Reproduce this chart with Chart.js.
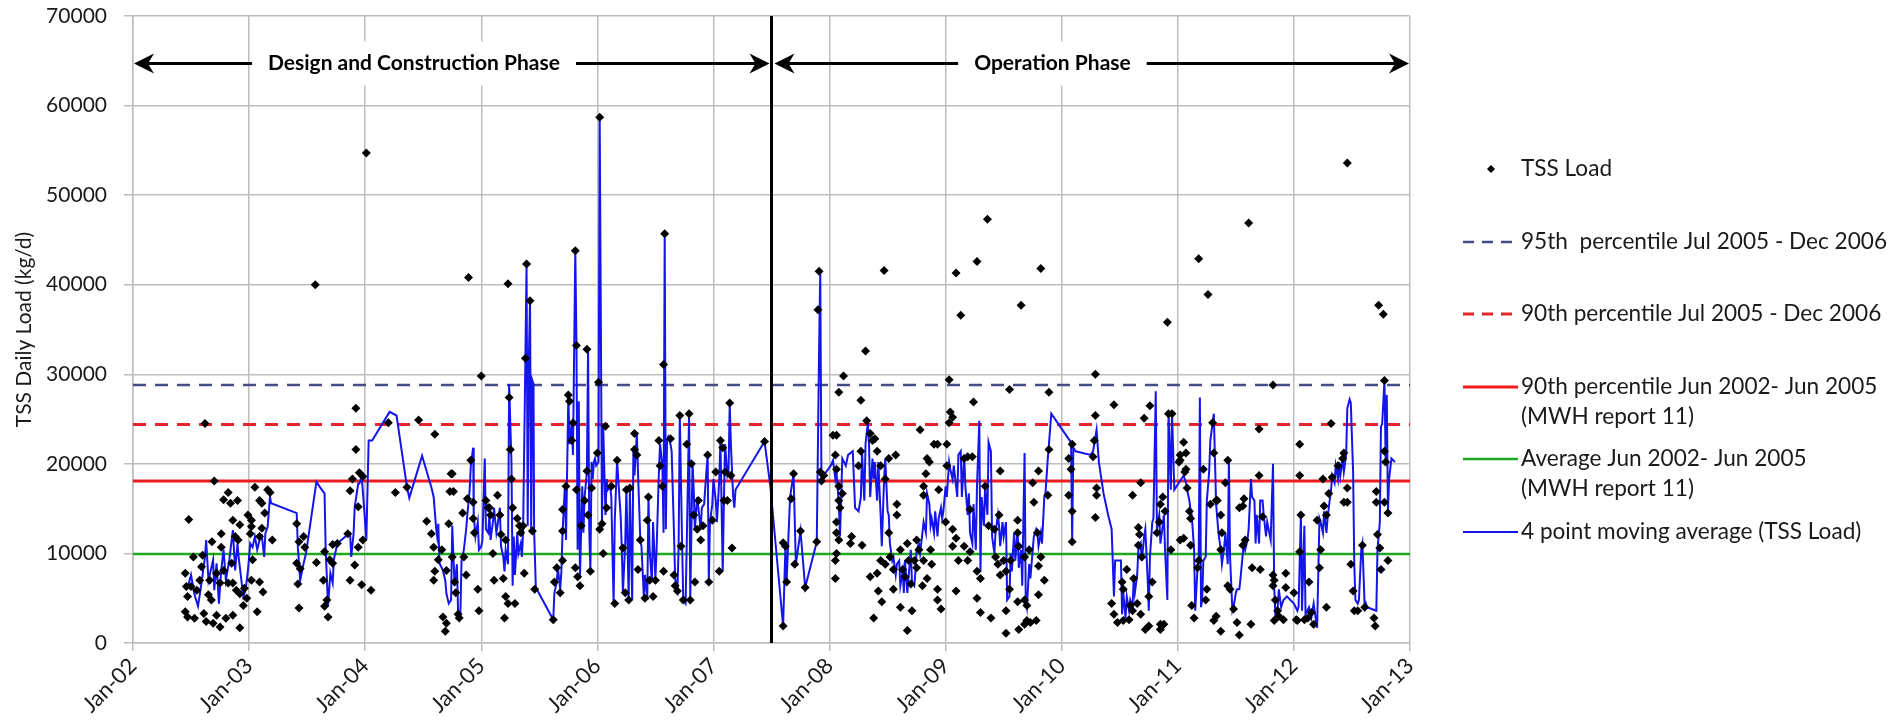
<!DOCTYPE html>
<html lang="en">
<head>
<meta charset="UTF-8">
<title>TSS Daily Load</title>
<script src="https://cdn.jsdelivr.net/npm/chart.js@4.4.0/dist/chart.umd.min.js"></script>
<style>
  html, body { margin: 0; padding: 0; background: #fff; }
  #wrap { width: 1902px; height: 725px; position: relative; }
</style>
</head>
<body>
<div id="wrap"><canvas id="tssChart"></canvas></div>

<script>
// ---- data (decimal year, kg/d) ----
const xTickLabels = ['Jan-02', 'Jan-03', 'Jan-04', 'Jan-05', 'Jan-06', 'Jan-07',
                     'Jan-08', 'Jan-09', 'Jan-10', 'Jan-11', 'Jan-12', 'Jan-13'];

const seriesLabels = [
  'TSS Load',
  '95th  percentile Jul 2005 - Dec 2006',
  '90th percentile Jul 2005 - Dec 2006',
  ['90th percentile Jun 2002- Jun 2005', '(MWH report 11)'],
  ['Average Jun 2002- Jun 2005', '(MWH report 11)'],
  '4 point moving average (TSS Load)'
];

const p95JulDec = 28800;
const p90JulDec = 24400;
const p90Mwh = 18100;
const averageMwh = 9950;

const phaseNames = ['Design and Construction Phase', 'Operation Phase'];
const phaseBoundary = 2007.5;

const tssLoad = [
  // 2002 - 2004
  [2002.45,7800],[2002.46,6300],[2002.47,5200],[2002.45,3500],[2002.47,2900],[2002.53,2750],[2002.61,3300],
  [2002.63,2400],[2002.69,2200],[2002.75,1800],[2002.72,3100],[2002.80,2750],[2002.86,3100],[2002.92,1700],
  [2002.52,9600],[2002.60,9800],[2002.59,8500],[2002.66,7000],[2002.72,7800],[2002.76,12200],[2002.76,10700],
  [2002.68,11300],[2002.78,16000],[2002.82,16800],[2002.84,15600],[2002.90,15900],[2002.86,13700],[2002.92,13200],
  [2002.88,11900],[2002.905,11500],[2002.85,8900],[2002.86,6700],[2002.92,5500],[2002.95,4200],[2002.99,14300],
  [2003.02,13700],[2003.02,13000],[2003.01,12200],[2003.03,9300],[2003.02,7000],[2003.09,6800],[2003.07,3500],
  [2003.12,5700],[2003.05,17400],[2003.09,15900],[2003.11,15600],[2003.135,14500],[2003.11,12800],[2003.16,17100],
  [2003.18,16800],[2003.20,11500],[2003.09,11900],[2002.48,13800],[2002.62,24500],[2002.70,18100],
  [2002.50,6300],[2002.55,5900],[2002.575,7000],[2002.65,5400],[2002.675,4800],[2002.75,6700],[2002.78,8100],
  [2002.82,6700],[2002.89,5900],[2002.96,6100],[2002.98,5000],
  [2003.41,13300],[2003.43,11300],[2003.47,11900],[2003.48,10700],[2003.41,8900],[2003.44,8300],[2003.42,6600],
  [2003.43,3900],[2003.57,40000],[2003.58,9000],[2003.65,10200],[2003.695,9300],[2003.72,11000],[2003.72,8900],
  [2003.64,7000],[2003.65,4100],[2003.68,2900],[2003.67,4800],[2003.76,11100],
  [2003.85,12200],[2003.87,7000],[2003.91,8700],[2003.94,10700],[2003.97,6500],[2003.98,11500],[2004.05,5900],
  [2003.87,17000],[2003.89,18300],[2003.92,21600],[2003.92,26200],[2003.95,19000],[2003.94,15200],[2003.98,18600],
  [2004.01,54700],[2004.20,24600],[2004.26,16800],[2004.46,24900],[2004.60,23300],[2004.36,17400],
  [2004.53,13600],[2004.57,12200],[2004.59,10700],[2004.60,8000],[2004.59,7000],[2004.63,9300],[2004.66,10400],
  [2004.67,2900],[2004.70,2200],[2004.69,1300],[2004.73,16900],[2004.74,18900],[2004.72,13300],[2004.70,8100],
  // 2004.75 - 2007.5
  [2004.75,18900],[2004.76,16900],[2004.75,9600],[2004.77,6800],[2004.78,5600],[2004.80,3200],[2004.81,2800],
  [2004.84,14500],[2004.85,9600],[2004.87,7600],[2004.88,16100],[2004.91,20400],[2004.93,15700],[2004.93,13900],
  [2004.94,12300],[2004.97,6000],[2004.98,3600],[2005.04,15900],[2005.06,15100],[2005.07,15100],[2005.08,14300],
  [2005.10,10000],[2005.11,7000],[2005.14,16500],[2005.16,14300],[2005.17,12100],[2005.19,7200],[2005.20,2800],
  [2005.21,11500],[2005.21,5200],[2005.23,4400],[2005.25,21600],[2005.24,27400],[2005.26,18300],[2005.27,15100],
  [2005.29,4400],[2005.31,13900],[2005.33,13100],[2005.34,12300],[2005.37,7800],[2005.36,13100],[2005.44,12500],
  [2005.46,6000],[2005.62,2600],[2005.63,6800],[2005.65,8400],[2005.68,5600],[2005.70,9200],[2005.70,12500],
  [2005.70,14900],[2005.73,17500],[2005.75,27700],[2005.76,27000],[2005.78,22600],[2005.79,24600],[2005.81,8400],
  [2005.82,17100],[2005.83,7400],[2005.85,6400],[2005.86,13100],[2005.89,15900],[2005.91,19200],[2005.92,14300],
  [2005.94,8000],[2005.95,17300],[2006.00,21200],[2006.02,12700],[2006.04,13300],[2006.05,10000],[2006.07,24200],
  [2006.08,15100],[2006.12,17500],[2006.15,4400],[2006.17,20400],[2006.22,10600],[2006.24,5600],[2006.27,4800],
  [2006.25,17100],[2006.28,17300],[2006.32,23400],[2006.32,21600],[2006.34,21000],[2006.35,8200],[2006.37,11500],
  [2006.41,5000],[2006.43,13700],[2006.44,16300],[2006.45,7000],[2006.48,5200],[2006.50,7000],[2006.53,22600],
  [2006.54,19800],[2006.56,17500],[2006.57,8000],[2006.63,22800],[2006.66,7600],[2006.67,6400],[2006.69,5800],
  [2006.71,25400],[2006.72,10800],[2006.74,4800],[2006.77,22200],[2006.79,25600],[2006.80,4800],[2006.81,20000],
  [2006.83,14300],[2006.84,6800],[2006.86,12700],[2006.87,15900],[2006.89,11500],[2006.91,13100],[2006.95,21000],
  [2006.96,6800],[2006.99,13700],[2007.02,19100],[2007.05,8000],[2007.06,22600],[2007.08,21800],[2007.09,15900],
  [2007.10,19100],[2007.12,15900],[2007.15,18700],
  [2004.89,40800],[2005.23,40100],[2005.00,29800],[2005.39,42300],[2005.42,38200],[2005.38,31800],[2005.81,43800],
  [2005.82,33200],[2005.91,32800],[2006.02,58700],[2006.58,45700],[2006.57,31100],[2006.01,29100],[2007.14,26800],
  [2007.44,22500],[2007.16,10600],
  // 2007.5 - 2010.25
  [2007.91,41500],[2007.90,37200],[2008.47,41600],[2008.31,32600],[2008.12,29800],[2008.08,28000],[2009.09,41300],
  [2009.13,36600],[2009.27,42600],[2009.36,47300],[2009.65,37700],[2009.82,41800],[2009.03,29400],[2009.55,28300],
  [2009.24,26900],[2009.89,28000],[2008.27,27100],
  [2007.60,11200],[2007.60,1900],[2007.62,10800],[2007.63,6800],[2007.67,16100],[2007.69,18900],[2007.70,8800],
  [2007.75,12500],[2007.79,6200],[2007.89,11300],[2007.92,19100],[2007.93,18100],[2007.95,18700],[2008.03,23200],
  [2008.06,23200],[2008.05,21000],[2008.06,19400],[2008.08,17500],[2008.08,15900],[2008.09,15100],[2008.11,16700],
  [2008.06,13500],[2008.06,12300],[2008.08,11500],[2008.06,10000],[2008.05,9200],[2008.05,7200],[2008.19,11900],
  [2008.18,11100],[2008.28,10900],[2008.25,19800],[2008.27,21400],[2008.32,24800],[2008.35,23400],[2008.37,22600],
  [2008.39,22800],[2008.41,21400],[2008.44,19800],[2008.48,18300],[2008.51,20600],[2008.57,21000],[2008.58,15500],
  [2008.58,14300],[2008.51,12300],[2008.44,9200],[2008.48,8800],[2008.52,9600],[2008.35,7400],[2008.41,7800],
  [2008.42,5800],[2008.45,4600],[2008.38,2800],[2008.55,6000],[2008.61,4000],[2008.67,1400],[2008.71,3600],
  [2008.61,10400],[2008.67,11100],[2008.68,9200],[2008.75,11500],[2008.77,10400],[2008.75,8400],[2008.80,6400],
  [2008.81,9200],[2008.84,7200],[2008.87,10400],[2008.88,8800],[2008.93,6000],[2008.93,4800],[2008.96,3800],
  [2008.78,23800],[2008.84,20600],[2008.86,20200],[2008.83,18900],[2008.81,17500],[2008.90,22200],[2008.93,22200],
  [2008.94,17100],[2009.00,13500],[2009.01,19800],[2009.03,24600],[2009.04,25800],[2009.06,25200],[2009.01,22200],
  [2009.06,12700],[2009.09,11700],[2009.06,10800],[2009.11,9200],[2009.09,5800],[2009.16,10800],[2009.19,9200],
  [2009.21,10200],[2009.23,20800],[2009.19,20800],[2009.27,8000],[2009.30,7200],[2009.27,5000],[2009.30,3400],
  [2009.39,2800],[2009.34,17500],[2009.37,13100],[2009.42,12700],[2009.43,9600],[2009.46,14300],[2009.47,19200],
  [2009.50,9200],[2009.52,8000],[2009.55,6000],[2009.52,3600],[2009.52,1100],[2009.63,1500],[2009.68,2100],
  [2009.70,2500],[2009.73,2300],[2009.78,2500],[2009.62,4600],[2009.68,4800],[2009.70,4200],[2009.80,5400],
  [2009.85,7000],[2009.80,8600],[2009.82,9600],[2009.72,10400],[2009.76,15700],[2009.75,17900],[2009.80,19200],
  [2009.62,13700],[2009.62,12300],[2009.63,10800],[2009.79,12300],[2010.06,20600],[2010.06,16500],[2010.09,14700],
  [2010.09,11300],[2010.08,19400],[2010.09,22200],[2009.89,21600],[2009.88,16500],[2009.16,20600],[2009.21,14900],
  [2008.81,16500],[2009.47,7600],[2009.45,8800],[2009.56,9200],[2009.68,9600],[2008.73,9200],[2008.70,6600],
  [2008.63,8200],[2008.65,7400],[2008.55,8200],
  // 2010.25 - 2013
  [2010.91,35800],[2011.18,42900],[2011.26,38900],[2011.61,46900],[2012.46,53600],[2012.73,37700],[2012.77,36700],
  [2010.29,30000],[2011.82,28800],[2012.78,29300],[2010.45,26600],[2010.76,26500],[2010.71,25100],[2010.29,25400],
  [2010.92,25600],[2010.95,25600],[2011.70,23900],[2012.32,24500],[2012.05,22200],
  [2010.28,22600],[2010.27,20800],[2010.30,17300],[2010.30,16500],[2010.29,14000],[2010.68,17900],[2010.61,16500],
  [2010.66,12900],[2010.67,12100],[2010.66,10900],[2010.69,9600],[2010.56,8200],[2010.62,7200],[2010.52,6800],
  [2010.53,6000],[2010.43,4400],[2010.45,3200],[2010.48,2300],[2010.53,2500],[2010.58,2600],[2010.61,3600],
  [2010.68,3200],[2010.72,1500],[2010.75,1900],[2010.85,1500],[2010.88,2100],[2010.85,2100],[2010.59,4200],
  [2010.65,4400],[2010.75,5200],[2010.78,6800],[2010.82,12300],[2010.84,13500],[2010.87,16300],[2010.85,15500],
  [2010.89,14700],[2010.94,10400],[2011.01,20200],[2011.02,21000],[2011.05,22400],[2011.07,19400],[2011.08,17300],
  [2011.07,21200],[2011.10,14700],[2011.11,13900],[2011.02,11500],[2011.05,11700],[2011.11,10900],[2011.12,4200],
  [2011.14,2800],[2011.17,8400],[2011.18,9200],[2011.22,19400],[2011.24,4800],[2011.25,6000],[2011.28,15500],
  [2011.31,21200],[2011.30,24600],[2011.33,15900],[2011.34,15900],[2011.37,14300],[2011.38,12300],[2011.37,10400],
  [2011.33,3000],[2011.31,2500],[2011.37,1300],[2011.43,20400],[2011.41,17900],[2011.43,6400],[2011.45,6000],
  [2011.48,3800],[2011.51,2300],[2011.53,900],[2011.53,15100],[2011.57,16100],[2011.58,11500],[2011.63,2100],
  [2011.64,8400],[2011.71,8200],[2011.70,18700],[2011.73,14100],[2011.82,7600],[2011.83,7000],[2011.82,6400],
  [2011.84,4800],[2011.86,3600],[2011.83,2500],[2011.87,3000],[2011.91,2600],[2011.93,7800],[2011.93,6200],
  [2012.00,5600],[2012.02,2600],[2012.03,2500],[2012.09,2600],[2012.12,2800],[2012.13,6800],[2012.15,3400],
  [2012.17,2100],[2012.05,10200],[2012.05,18700],[2012.06,14300],[2012.20,13700],[2012.23,10400],[2012.22,8400],
  [2012.28,4000],[2012.26,15300],[2012.28,14300],[2012.25,18300],[2012.30,16700],[2012.33,18500],[2012.38,19800],
  [2012.42,20600],[2012.43,21200],[2012.43,15700],[2012.46,15700],[2012.46,17300],[2012.49,8800],[2012.51,5800],
  [2012.52,3600],[2012.55,3600],[2012.59,10900],[2012.61,4000],[2012.69,2800],[2012.70,1900],[2012.71,16900],
  [2012.71,15700],[2012.72,12100],[2012.74,10600],[2012.75,8200],[2012.78,15700],[2012.81,14500],[2012.81,9200],
  [2012.79,20200],[2012.78,21400],[2011.56,15300],[2011.56,10900],[2011.02,20400],[2011.06,19100]
];

const movingAverage = [
  [2002.47,6100],[2002.50,7600],[2002.53,5400],[2002.56,4100],[2002.59,6700],[2002.62,9600],[2002.63,11500],
  [2002.65,7000],[2002.67,8100],[2002.69,9300],[2002.70,5900],[2002.72,8900],[2002.74,4400],[2002.76,8100],
  [2002.78,10400],[2002.80,7000],[2002.83,9300],[2002.86,12600],[2002.88,8100],[2002.90,11100],[2002.91,9600],
  [2002.93,7400],[2002.95,5200],[2002.97,5900],[2002.99,8100],[2003.01,11100],[2003.03,10700],[2003.05,11900],
  [2003.07,10400],[2003.09,11500],[2003.11,11900],[2003.13,9600],[2003.14,12200],[2003.16,13000],[2003.18,16300],
  [2003.19,15600],[2003.41,14500],[2003.42,10700],[2003.44,7000],[2003.47,8900],[2003.49,10000],[2003.58,18000],
  [2003.61,17400],[2003.65,16700],[2003.66,10400],[2003.68,4100],[2003.70,7800],[2003.72,6700],[2003.73,9300],
  [2003.76,11100],[2003.84,12000],[2003.87,12200],[2003.88,9600],[2003.90,12200],[2003.91,15200],[2003.94,17800],
  [2003.95,17800],[2003.97,18600],[2003.99,15200],[2004.01,11500],[2004.03,22600],[2004.06,22600],[2004.21,25800],
  [2004.27,25400],[2004.36,17400],[2004.38,16200],[2004.49,20900],[2004.57,17400],[2004.59,16300],[2004.61,13000],
  [2004.62,11900],[2004.63,13300],[2004.64,8900],[2004.67,8100],[2004.69,7000],[2004.70,5500],[2004.72,4400],
  [2004.74,4800],
  [2004.75,13100],[2004.77,6400],[2004.79,8800],[2004.80,3600],[2004.82,3200],[2004.83,9200],[2004.85,10400],
  [2004.87,12700],[2004.88,14300],[2004.90,17100],[2004.91,19800],[2004.93,21800],[2004.935,14300],[2004.95,11900],
  [2004.97,13500],[2004.98,10400],[2005.00,10800],[2005.01,11500],[2005.03,20600],[2005.04,12700],[2005.06,12300],
  [2005.07,14300],[2005.08,11500],[2005.10,13500],[2005.11,15100],[2005.13,12300],[2005.14,13100],[2005.16,15100],
  [2005.17,10800],[2005.19,9600],[2005.20,8000],[2005.21,10400],[2005.23,8800],[2005.24,28900],[2005.26,20200],
  [2005.27,6400],[2005.28,11900],[2005.29,7600],[2005.31,12300],[2005.32,10000],[2005.34,11100],[2005.35,9600],
  [2005.36,12300],[2005.38,31700],[2005.39,42200],[2005.40,13100],[2005.41,31700],[2005.42,38200],[2005.43,12700],
  [2005.44,29300],[2005.45,28900],[2005.455,12700],[2005.47,6200],[2005.62,2600],[2005.63,5600],[2005.65,6800],
  [2005.66,8400],[2005.68,6000],[2005.69,8000],[2005.70,12300],[2005.72,17500],[2005.73,11500],[2005.75,27700],
  [2005.76,22200],[2005.78,24600],[2005.79,21000],[2005.81,43800],[2005.82,33300],[2005.83,10400],[2005.84,27000],
  [2005.85,7200],[2005.87,17500],[2005.88,12300],[2005.89,16300],[2005.91,19100],[2005.92,32800],[2005.93,12700],
  [2005.94,8000],[2005.95,20200],[2005.96,18300],[2005.97,20200],[2005.98,20600],[2005.99,19800],[2006.01,20200],
  [2006.02,58700],[2006.04,13100],[2006.05,24400],[2006.07,14300],[2006.08,18300],[2006.09,17100],[2006.11,17500],
  [2006.12,16300],[2006.14,4400],[2006.15,13700],[2006.17,20400],[2006.18,18300],[2006.20,14300],[2006.21,10800],
  [2006.22,5600],[2006.24,11100],[2006.25,17100],[2006.27,4800],[2006.28,17100],[2006.30,4800],[2006.31,21400],
  [2006.32,18700],[2006.34,23400],[2006.35,19100],[2006.37,11500],[2006.38,10800],[2006.40,5200],[2006.41,7600],
  [2006.43,4800],[2006.44,16300],[2006.45,10400],[2006.47,6800],[2006.48,13500],[2006.50,7200],[2006.51,10400],
  [2006.53,19100],[2006.54,22200],[2006.56,19800],[2006.57,12300],[2006.58,45700],[2006.59,12700],[2006.60,22600],
  [2006.61,23000],[2006.63,22200],[2006.64,21400],[2006.66,12300],[2006.67,7200],[2006.69,6000],[2006.70,10800],
  [2006.71,25400],[2006.73,11100],[2006.74,4800],[2006.76,4400],[2006.77,11100],[2006.79,25400],[2006.80,4800],
  [2006.82,20200],[2006.83,17100],[2006.84,12700],[2006.86,16300],[2006.87,15100],[2006.89,12700],[2006.90,15100],
  [2006.92,15500],[2006.93,17500],[2006.95,21000],[2006.96,6800],[2006.97,13500],[2006.99,15500],[2007.00,18300],
  [2007.02,15900],[2007.03,13500],[2007.05,18300],[2007.06,22600],[2007.08,8000],[2007.09,15900],[2007.10,22200],
  [2007.12,18700],[2007.13,19100],[2007.14,26800],[2007.15,22200],[2007.17,16300],[2007.18,15100],[2007.19,17100],
  [2007.44,22500],
  [2007.49,17500],[2007.60,1900],[2007.62,10800],[2007.63,6800],[2007.66,16300],[2007.69,18900],[2007.71,8800],
  [2007.75,12500],[2007.79,6200],[2007.89,11300],[2007.91,32900],[2007.92,41400],[2007.93,18700],[2007.96,18900],
  [2008.01,19800],[2008.03,20400],[2008.05,18300],[2008.06,19100],[2008.08,15500],[2008.09,11900],[2008.11,20600],
  [2008.14,19800],[2008.16,21000],[2008.20,21400],[2008.22,15100],[2008.25,14700],[2008.27,16300],[2008.28,21400],
  [2008.29,18300],[2008.30,15900],[2008.31,22200],[2008.33,24600],[2008.34,22200],[2008.35,16300],[2008.37,20600],
  [2008.38,18300],[2008.39,20200],[2008.41,15900],[2008.42,20200],[2008.44,14300],[2008.45,10800],[2008.47,18300],
  [2008.48,20600],[2008.50,14700],[2008.51,14300],[2008.52,11100],[2008.54,9200],[2008.55,9600],[2008.57,7600],
  [2008.58,8800],[2008.60,9200],[2008.61,6400],[2008.63,8000],[2008.64,5600],[2008.65,9200],[2008.67,5600],
  [2008.68,7200],[2008.70,10400],[2008.71,6800],[2008.73,6400],[2008.74,8000],[2008.75,10400],[2008.77,11100],
  [2008.78,10000],[2008.80,12300],[2008.81,13500],[2008.83,12300],[2008.84,16700],[2008.86,15500],[2008.87,13100],
  [2008.88,13900],[2008.90,12300],[2008.91,14700],[2008.93,11900],[2008.94,13900],[2008.96,15100],[2008.97,13900],
  [2008.98,14700],[2009.00,17500],[2009.01,16300],[2009.03,20200],[2009.04,19400],[2009.06,18300],[2009.07,19800],
  [2009.09,17500],[2009.10,16300],[2009.11,21000],[2009.13,21400],[2009.14,16300],[2009.16,21000],[2009.17,17500],
  [2009.19,14300],[2009.20,16700],[2009.21,12300],[2009.23,11100],[2009.24,15500],[2009.26,10400],[2009.27,17500],
  [2009.29,24800],[2009.30,8000],[2009.31,16300],[2009.33,13100],[2009.34,17500],[2009.36,14300],[2009.37,22400],
  [2009.39,21400],[2009.40,11900],[2009.42,10000],[2009.43,12300],[2009.45,14300],[2009.46,13100],[2009.47,10800],
  [2009.49,13500],[2009.50,11900],[2009.52,13500],[2009.53,4800],[2009.55,5200],[2009.56,10000],[2009.57,8000],
  [2009.59,12300],[2009.60,9200],[2009.62,12700],[2009.63,8400],[2009.65,10400],[2009.66,6400],[2009.68,21200],
  [2009.69,4800],[2009.70,4000],[2009.72,8800],[2009.73,7200],[2009.75,10400],[2009.76,11900],[2009.78,12700],
  [2009.79,12300],[2009.80,10800],[2009.82,12300],[2009.83,11100],[2009.85,16300],[2009.86,16700],[2009.88,20600],
  [2009.89,22200],[2009.91,25600],[2010.08,22400],[2010.09,11500],[2010.10,21800],[2010.12,21400],
  [2010.25,21000],[2010.27,21400],[2010.30,23800],[2010.32,20200],[2010.36,16700],[2010.40,14300],[2010.43,12700],
  [2010.45,5200],[2010.46,9200],[2010.51,9200],[2010.52,3200],[2010.53,5600],[2010.55,2800],[2010.56,5200],
  [2010.58,3600],[2010.59,4800],[2010.61,4000],[2010.62,7200],[2010.63,5600],[2010.65,7600],[2010.66,10400],
  [2010.68,11100],[2010.69,9200],[2010.71,11900],[2010.72,12700],[2010.74,7200],[2010.75,3600],[2010.76,9600],
  [2010.78,13500],[2010.79,13900],[2010.81,28100],[2010.82,12700],[2010.84,14300],[2010.85,11100],[2010.87,13100],
  [2010.88,14300],[2010.89,10400],[2010.91,4800],[2010.92,25800],[2010.94,17100],[2010.95,25800],[2010.97,17100],
  [2011.01,17900],[2011.05,18700],[2011.07,17900],[2011.08,17100],[2011.10,15900],[2011.11,14700],[2011.12,14300],
  [2011.14,10400],[2011.15,3600],[2011.17,8400],[2011.18,9200],[2011.19,27400],[2011.20,4000],[2011.21,4800],
  [2011.22,9200],[2011.24,9600],[2011.25,15900],[2011.27,19100],[2011.28,22600],[2011.30,24600],[2011.31,25600],
  [2011.33,15500],[2011.34,13900],[2011.35,12300],[2011.37,10400],[2011.38,8800],[2011.40,10800],[2011.41,12300],
  [2011.43,8800],[2011.44,20400],[2011.45,9600],[2011.47,3600],[2011.48,4000],[2011.50,5600],[2011.51,6000],
  [2011.53,6000],[2011.54,7200],[2011.56,10000],[2011.57,11100],[2011.58,10400],[2011.60,11500],[2011.61,12700],
  [2011.63,18300],[2011.64,16300],[2011.66,15900],[2011.67,11100],[2011.68,14300],[2011.70,11100],[2011.71,15900],
  [2011.73,15900],[2011.74,14300],[2011.76,11900],[2011.77,13500],[2011.80,11500],[2011.82,20000],[2011.83,6400],
  [2011.84,3200],[2011.86,4000],[2011.87,6000],[2011.89,4000],[2011.91,4800],[2011.94,5200],[2011.97,4800],
  [2012.00,4400],[2012.03,3600],[2012.04,4000],[2012.06,14300],[2012.07,3600],[2012.09,13100],[2012.10,3200],
  [2012.13,4000],[2012.15,2800],[2012.16,3600],[2012.17,4400],[2012.19,2500],[2012.20,1700],[2012.22,13900],
  [2012.23,13500],[2012.25,12300],[2012.26,14700],[2012.28,12300],[2012.29,13900],[2012.30,15100],[2012.32,17100],
  [2012.33,18700],[2012.35,17900],[2012.36,19800],[2012.38,18300],[2012.39,20200],[2012.40,18700],[2012.42,20600],
  [2012.43,19100],[2012.45,21000],[2012.46,26200],[2012.48,27200],[2012.49,26800],[2012.51,19100],[2012.52,8800],
  [2012.53,4800],[2012.55,4400],[2012.56,4800],[2012.58,10400],[2012.59,11100],[2012.61,4000],[2012.62,4400],
  [2012.63,4000],[2012.71,3600],[2012.72,10400],[2012.74,13500],[2012.75,24200],[2012.76,24400],[2012.78,29300],
  [2012.79,20600],[2012.80,27700],[2012.81,14700],[2012.82,18300],[2012.84,20600],[2012.87,20200]
];

// ---- helpers ----
const toPoints = arr => arr.map(([x, y]) => ({ x, y }));
const flatLine = v => [{ x: 2002, y: v }, { x: 2013, y: v }];
const FONT = "Lato, 'Open Sans', sans-serif";
const GRID = '#bdbdbd';
const INK = '#1a1a1a';
const PLOT_TOP = 16;   // where the 70000 gridline sits in the original

// phase arrows and the boundary line at the top of the plot
const phasePlugin = {
  id: 'phases',
  afterDatasetsDraw(chart) {
    const { ctx, chartArea, scales } = chart;
    const xs = scales.x, ys = scales.y;
    const bx = xs.getPixelForValue(phaseBoundary);
    const ay = ys.getPixelForValue(64700);

    ctx.save();
    ctx.strokeStyle = '#000';
    ctx.lineWidth = 3;
    ctx.beginPath();
    ctx.moveTo(bx, chartArea.top);
    ctx.lineTo(bx, chartArea.bottom);
    ctx.stroke();

    const spans = [
      { name: phaseNames[0], x0: chartArea.left + 1, x1: bx - 2, at: 2004.42 },
      { name: phaseNames[1], x0: bx + 3, x1: chartArea.right - 1, at: 2009.92 }
    ];
    ctx.font = 'bold 21px ' + FONT;
    ctx.textAlign = 'center';
    ctx.textBaseline = 'middle';
    spans.forEach(s => {
      ctx.strokeStyle = '#000';
      ctx.lineWidth = 3;
      ctx.beginPath();
      ctx.moveTo(s.x0 + 4, ay);
      ctx.lineTo(s.x1 - 4, ay);
      ctx.stroke();
      arrowHead(ctx, s.x0, ay, -1);
      arrowHead(ctx, s.x1, ay, 1);

      const cx = xs.getPixelForValue(s.at);
      const w = ctx.measureText(s.name).width;
      ctx.fillStyle = '#fff';
      ctx.fillRect(cx - w / 2 - 16, ay - 22, w + 32, 44);
      ctx.fillStyle = '#000';
      ctx.fillText(s.name, cx, ay);
    });
    ctx.restore();
  }
};

function arrowHead(ctx, x, y, dir) {
  ctx.fillStyle = '#000';
  ctx.beginPath();
  ctx.moveTo(x, y);
  ctx.lineTo(x - dir * 20, y - 10);
  ctx.lineTo(x - dir * 14, y);
  ctx.lineTo(x - dir * 20, y + 10);
  ctx.closePath();
  ctx.fill();
}

// legend drawn to the right of the plot, like the original
const sideLegend = {
  id: 'sideLegend',
  afterDraw(chart) {
    const { ctx, chartArea } = chart;
    const ds = chart.data.datasets;
    const lx0 = chartArea.right + 53, lx1 = chartArea.right + 108, tx = chartArea.right + 111;
    const rows = [169, 242, 314, 387, 459, 532];
    ctx.save();
    ctx.font = '22.6px ' + FONT;
    ctx.textBaseline = 'middle';
    ctx.textAlign = 'left';
    ds.forEach((d, r) => {
      const y = rows[r];
      if (d.pointStyle === 'rectRot') {
        const cx = chartArea.right + 81;
        ctx.fillStyle = '#000';
        ctx.beginPath();
        ctx.moveTo(cx, y - 4); ctx.lineTo(cx + 4, y); ctx.lineTo(cx, y + 4); ctx.lineTo(cx - 4, y);
        ctx.closePath();
        ctx.fill();
      } else {
        ctx.strokeStyle = d.borderColor;
        ctx.lineWidth = d.borderWidth;
        ctx.setLineDash(d.borderDash ? [11, 8] : []);
        ctx.beginPath();
        ctx.moveTo(lx0, y);
        ctx.lineTo(lx1, y);
        ctx.stroke();
        ctx.setLineDash([]);
      }
      ctx.fillStyle = INK;
      const lines = Array.isArray(d.label) ? d.label : [d.label];
      lines.forEach((t, i) => ctx.fillText(t, tx, y + i * 30));
    });
    ctx.restore();
  }
};

const ctx = document.getElementById('tssChart').getContext('2d');
const tssChart = new Chart(ctx, {
  type: 'scatter',
  data: {
    datasets: [
      {
        label: seriesLabels[0],
        data: toPoints(tssLoad),
        pointStyle: 'rectRot',
        pointRadius: 4.5,
        backgroundColor: '#000',
        borderColor: '#000',
        borderWidth: 0,
        showLine: false,
        order: 0
      },
      {
        label: seriesLabels[1],
        data: flatLine(p95JulDec),
        showLine: true,
        borderColor: '#464a86',
        borderWidth: 2.5,
        borderDash: [13, 9],
        pointRadius: 0,
        order: 3
      },
      {
        label: seriesLabels[2],
        data: flatLine(p90JulDec),
        showLine: true,
        borderColor: '#e3262b',
        borderWidth: 3,
        borderDash: [13, 9],
        pointRadius: 0,
        order: 3
      },
      {
        label: seriesLabels[3],
        data: flatLine(p90Mwh),
        showLine: true,
        borderColor: '#f01c1c',
        borderWidth: 3,
        pointRadius: 0,
        order: 3
      },
      {
        label: seriesLabels[4],
        data: flatLine(averageMwh),
        showLine: true,
        borderColor: '#1fa81f',
        borderWidth: 2.5,
        pointRadius: 0,
        order: 3
      },
      {
        label: seriesLabels[5],
        data: toPoints(movingAverage),
        showLine: true,
        borderColor: '#1414ec',
        borderWidth: 2,
        pointRadius: 0,
        tension: 0,
        order: 1
      }
    ]
  },
  options: {
    responsive: true,
    maintainAspectRatio: false,
    animation: false,
    layout: { padding: { top: PLOT_TOP, right: 492, left: 0, bottom: 0 } },
    plugins: {
      legend: { display: false },
      tooltip: { enabled: false }
    },
    scales: {
      x: {
        type: 'linear',
        min: 2002,
        max: 2013,
        afterFit: s => { s.height = 82; s.paddingTop = 0; },
        ticks: {
          stepSize: 1,
          autoSkip: false,
          minRotation: 45,
          maxRotation: 45,
          padding: 2,
          color: INK,
          font: { family: FONT, size: 22 },
          callback: v => xTickLabels[Math.round(v - 2002)]
        },
        grid: { color: GRID, lineWidth: 1.5, tickLength: 8 },
        border: { color: GRID, width: 1.5 }
      },
      y: {
        min: 0,
        max: 70000,
        afterFit: s => { s.width = 133; s.paddingTop = 0; s.paddingBottom = 0; },
        ticks: {
          stepSize: 10000,
          padding: 17,
          color: INK,
          font: { family: FONT, size: 21 },
          callback: v => String(v)
        },
        title: {
          display: true,
          text: 'TSS Daily Load (kg/d)',
          color: INK,
          font: { family: FONT, size: 21 },
          padding: { top: 12, bottom: 0 }
        },
        grid: { color: GRID, lineWidth: 1.5, tickLength: 9 },
        border: { color: GRID, width: 1.5 }
      }
    }
  },
  plugins: [phasePlugin, sideLegend]
});

// nudge the top padding until the plot's top edge lands where the original has it
for (let i = 0; i < 3; i++) {
  const diff = tssChart.chartArea.top - PLOT_TOP;
  if (Math.abs(diff) < 0.5) break;
  tssChart.options.layout.padding.top -= diff;
  tssChart.update();
}
</script>
</body>
</html>
